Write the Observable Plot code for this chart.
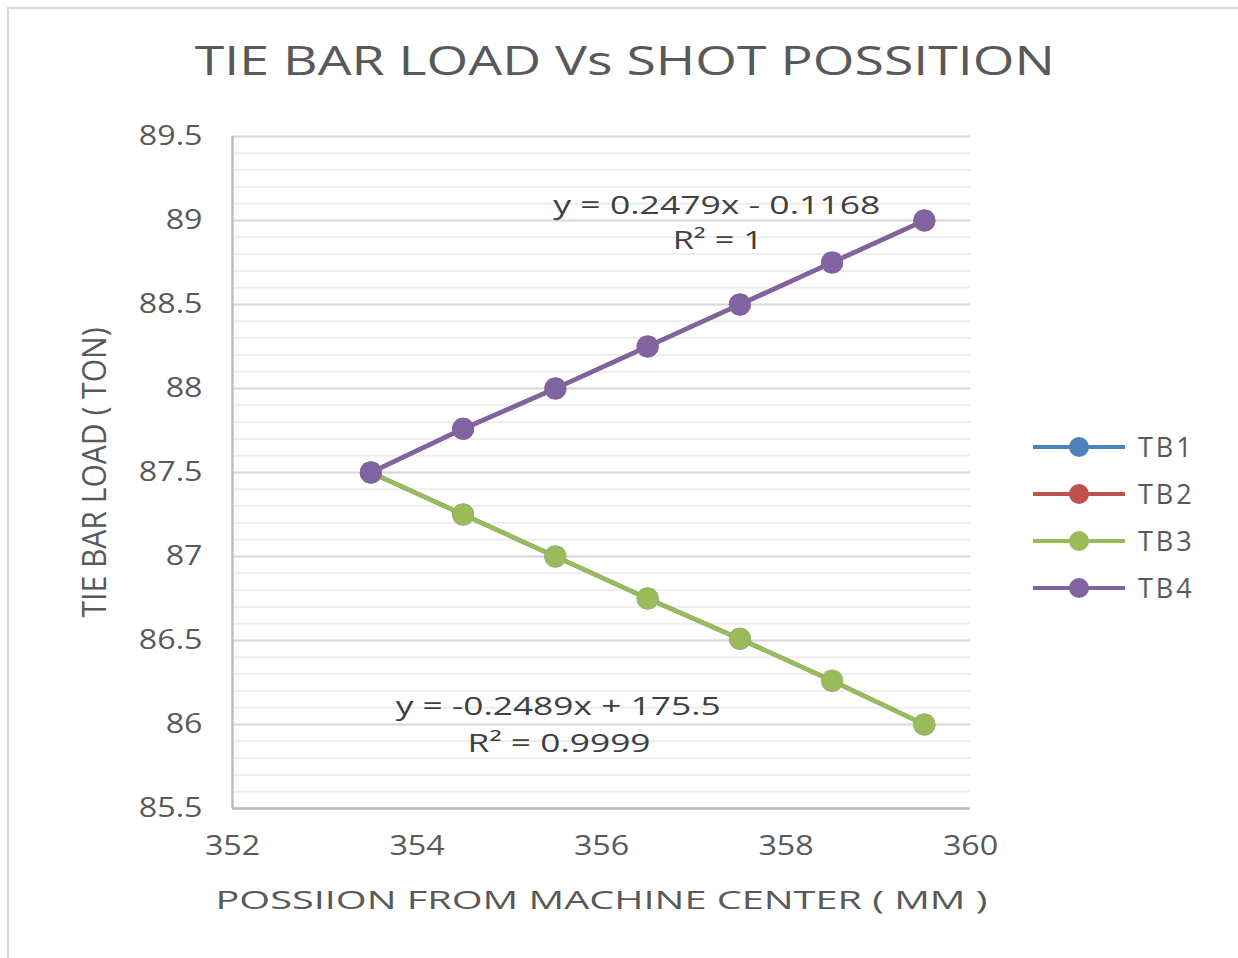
<!DOCTYPE html>
<html>
<head>
<meta charset="utf-8">
<script src="https://cdn.jsdelivr.net/npm/d3@7"></script>
<script src="https://cdn.jsdelivr.net/npm/@observablehq/plot@0.6"></script>
<style>
  body { margin: 0; background: #fff; font-family: "Open Sans", sans-serif; }
  #wrap { position: relative; width: 1238px; height: 958px; overflow: hidden; background: #fff; }
  #border { position: absolute; left: 7px; top: 7px; width: 1260px; height: 980px; border: 2px solid #d9d9d9; box-sizing: border-box; pointer-events: none; }
  #title { height: 100px; box-sizing: border-box; padding-top: 40px; padding-left: 12px; line-height: 40px; font-size: 40px; color: #595959; text-align: center; white-space: nowrap; }
  #title span { display: inline-block; transform-origin: center; }
  #legend { position: absolute; left: 1033px; top: 423px; }
  .row { display: flex; align-items: center; height: 47px; }
  .row span { margin-left: 13px; font-size: 27px; letter-spacing: 3px; color: #595959; line-height: 47px; }
  #chart svg { display: block; }
</style>
</head>
<body>
<div id="wrap">
  <div id="title"><span>TIE BAR LOAD Vs SHOT POSSITION</span></div>
  <div id="chart"></div>
  <div id="legend"></div>
  <div id="border"></div>
</div>
<script>
// ---- data ----
const xPositions = [353.5, 354.5, 355.5, 356.5, 357.5, 358.5, 359.5];
const tb1 = [87.5, 87.25, 87.0, 86.75, 86.51, 86.26, 86.0];
const tb2 = [87.5, 87.76, 88.0, 88.25, 88.5, 88.75, 89.0];
const tb3 = [87.5, 87.25, 87.0, 86.75, 86.51, 86.26, 86.0];
const tb4 = [87.5, 87.76, 88.0, 88.25, 88.5, 88.75, 89.0];
const seriesNames = ["TB1", "TB2", "TB3", "TB4"];
const seriesColors = ["#4F81BD", "#C0504D", "#9BBB59", "#8064A2"];
const xTicks = [352, 354, 356, 358, 360];
const yTicks = [85.5, 86, 86.5, 87, 87.5, 88, 88.5, 89, 89.5];
const yMinorTicks = d3.range(855, 896, 1).map(d => d / 10);
const trendTexts = ["y = 0.2479x - 0.1168", "R² = 1", "y = -0.2489x + 175.5", "R² = 0.9999"];
const trendX = [357.25, 357.26, 355.53, 355.54];
const trendY = [89.09, 88.88, 86.107, 85.887];
const titleText = "TIE BAR LOAD Vs SHOT POSSITION";
const xLabel = "POSSIION FROM MACHINE CENTER ( MM )";
const yLabel = "TIE BAR LOAD ( TON)";

const seriesValues = [tb1, tb2, tb3, tb4];
const rows = seriesNames.flatMap((s, i) => xPositions.map((x, j) => ({series: s, x, y: seriesValues[i][j]})));
const trendLabels = trendTexts.map((t, i) => ({text: t, x: trendX[i], y: trendY[i]}));

const chart = Plot.plot({
  width: 1238,
  height: 858,
  marginTop: 36,
  marginBottom: 150,
  marginLeft: 232,
  marginRight: 268,
  style: {color: "#595959", fontFamily: "Open Sans, sans-serif", background: "#fff"},
  x: {domain: [352, 360]},
  y: {domain: [85.5, 89.5]},
  color: {domain: seriesNames, range: seriesColors},
  marks: [
    Plot.ruleY(yMinorTicks, {stroke: "#eeeeee", strokeWidth: 2}),
    Plot.ruleY(yTicks, {stroke: "#d9d9d9", strokeWidth: 2}),
    Plot.ruleX([352], {stroke: "#bfbfbf", strokeWidth: 2.5}),
    Plot.ruleY([85.5], {stroke: "#bfbfbf", strokeWidth: 2.5}),
    Plot.line(rows, {x: "x", y: "y", z: "series", stroke: "series", strokeWidth: 4.5}),
    Plot.dot(rows, {x: "x", y: "y", fill: "series", r: 11}),
    Plot.text(trendLabels, {x: "x", y: "y", text: "text", fill: "#404040", fontSize: 26}),
    Plot.axisX({ticks: xTicks, tickSize: 0, tickPadding: 27, fontSize: 28, label: null}),
    Plot.axisY({ticks: yTicks, tickSize: 0, tickPadding: 30, fontSize: 28, label: null, tickFormat: d => String(d)}),
    Plot.text([yLabel], {frameAnchor: "left", textAnchor: "middle", lineAnchor: "middle", dx: -137, rotate: -90, fontSize: 32, fill: "#595959"}),
    Plot.text([xLabel], {frameAnchor: "bottom", textAnchor: "middle", lineAnchor: "middle", dy: 92, fontSize: 26, fill: "#595959"})
  ]
});
document.getElementById("chart").appendChild(chart);

// stretch texts horizontally to match the wide look of the reference
const targets = {};
targets[yLabel] = 290;
targets[xLabel] = 772;
targets[trendTexts[0]] = 327;
targets[trendTexts[1]] = 90;
targets[trendTexts[2]] = 325;
targets[trendTexts[3]] = 183;
chart.querySelectorAll("text").forEach(t => {
  const s = t.textContent;
  const len = t.getComputedTextLength();
  if (!len) return;
  const target = targets[s] != null ? targets[s] : len * 1.15;
  t.setAttribute("textLength", target);
  t.setAttribute("lengthAdjust", "spacingAndGlyphs");
});

// title stretch
const tspan = document.querySelector("#title span");
const tw = tspan.getBoundingClientRect().width;
tspan.style.transform = `scaleX(${860 / tw})`;

// legend
const legend = document.getElementById("legend");
seriesNames.forEach((s, i) => {
  const row = document.createElement("div");
  row.className = "row";
  const ns = "http://www.w3.org/2000/svg";
  const sv = document.createElementNS(ns, "svg");
  sv.setAttribute("width", 92); sv.setAttribute("height", 24);
  const ln = document.createElementNS(ns, "line");
  ln.setAttribute("x1", 0); ln.setAttribute("x2", 92); ln.setAttribute("y1", 12); ln.setAttribute("y2", 12);
  ln.setAttribute("stroke", seriesColors[i]); ln.setAttribute("stroke-width", 4);
  const c = document.createElementNS(ns, "circle");
  c.setAttribute("cx", 46); c.setAttribute("cy", 12); c.setAttribute("r", 10); c.setAttribute("fill", seriesColors[i]);
  sv.appendChild(ln); sv.appendChild(c);
  const lab = document.createElement("span");
  lab.textContent = s;
  row.appendChild(sv); row.appendChild(lab);
  legend.appendChild(row);
});
</script>
</body>
</html>
